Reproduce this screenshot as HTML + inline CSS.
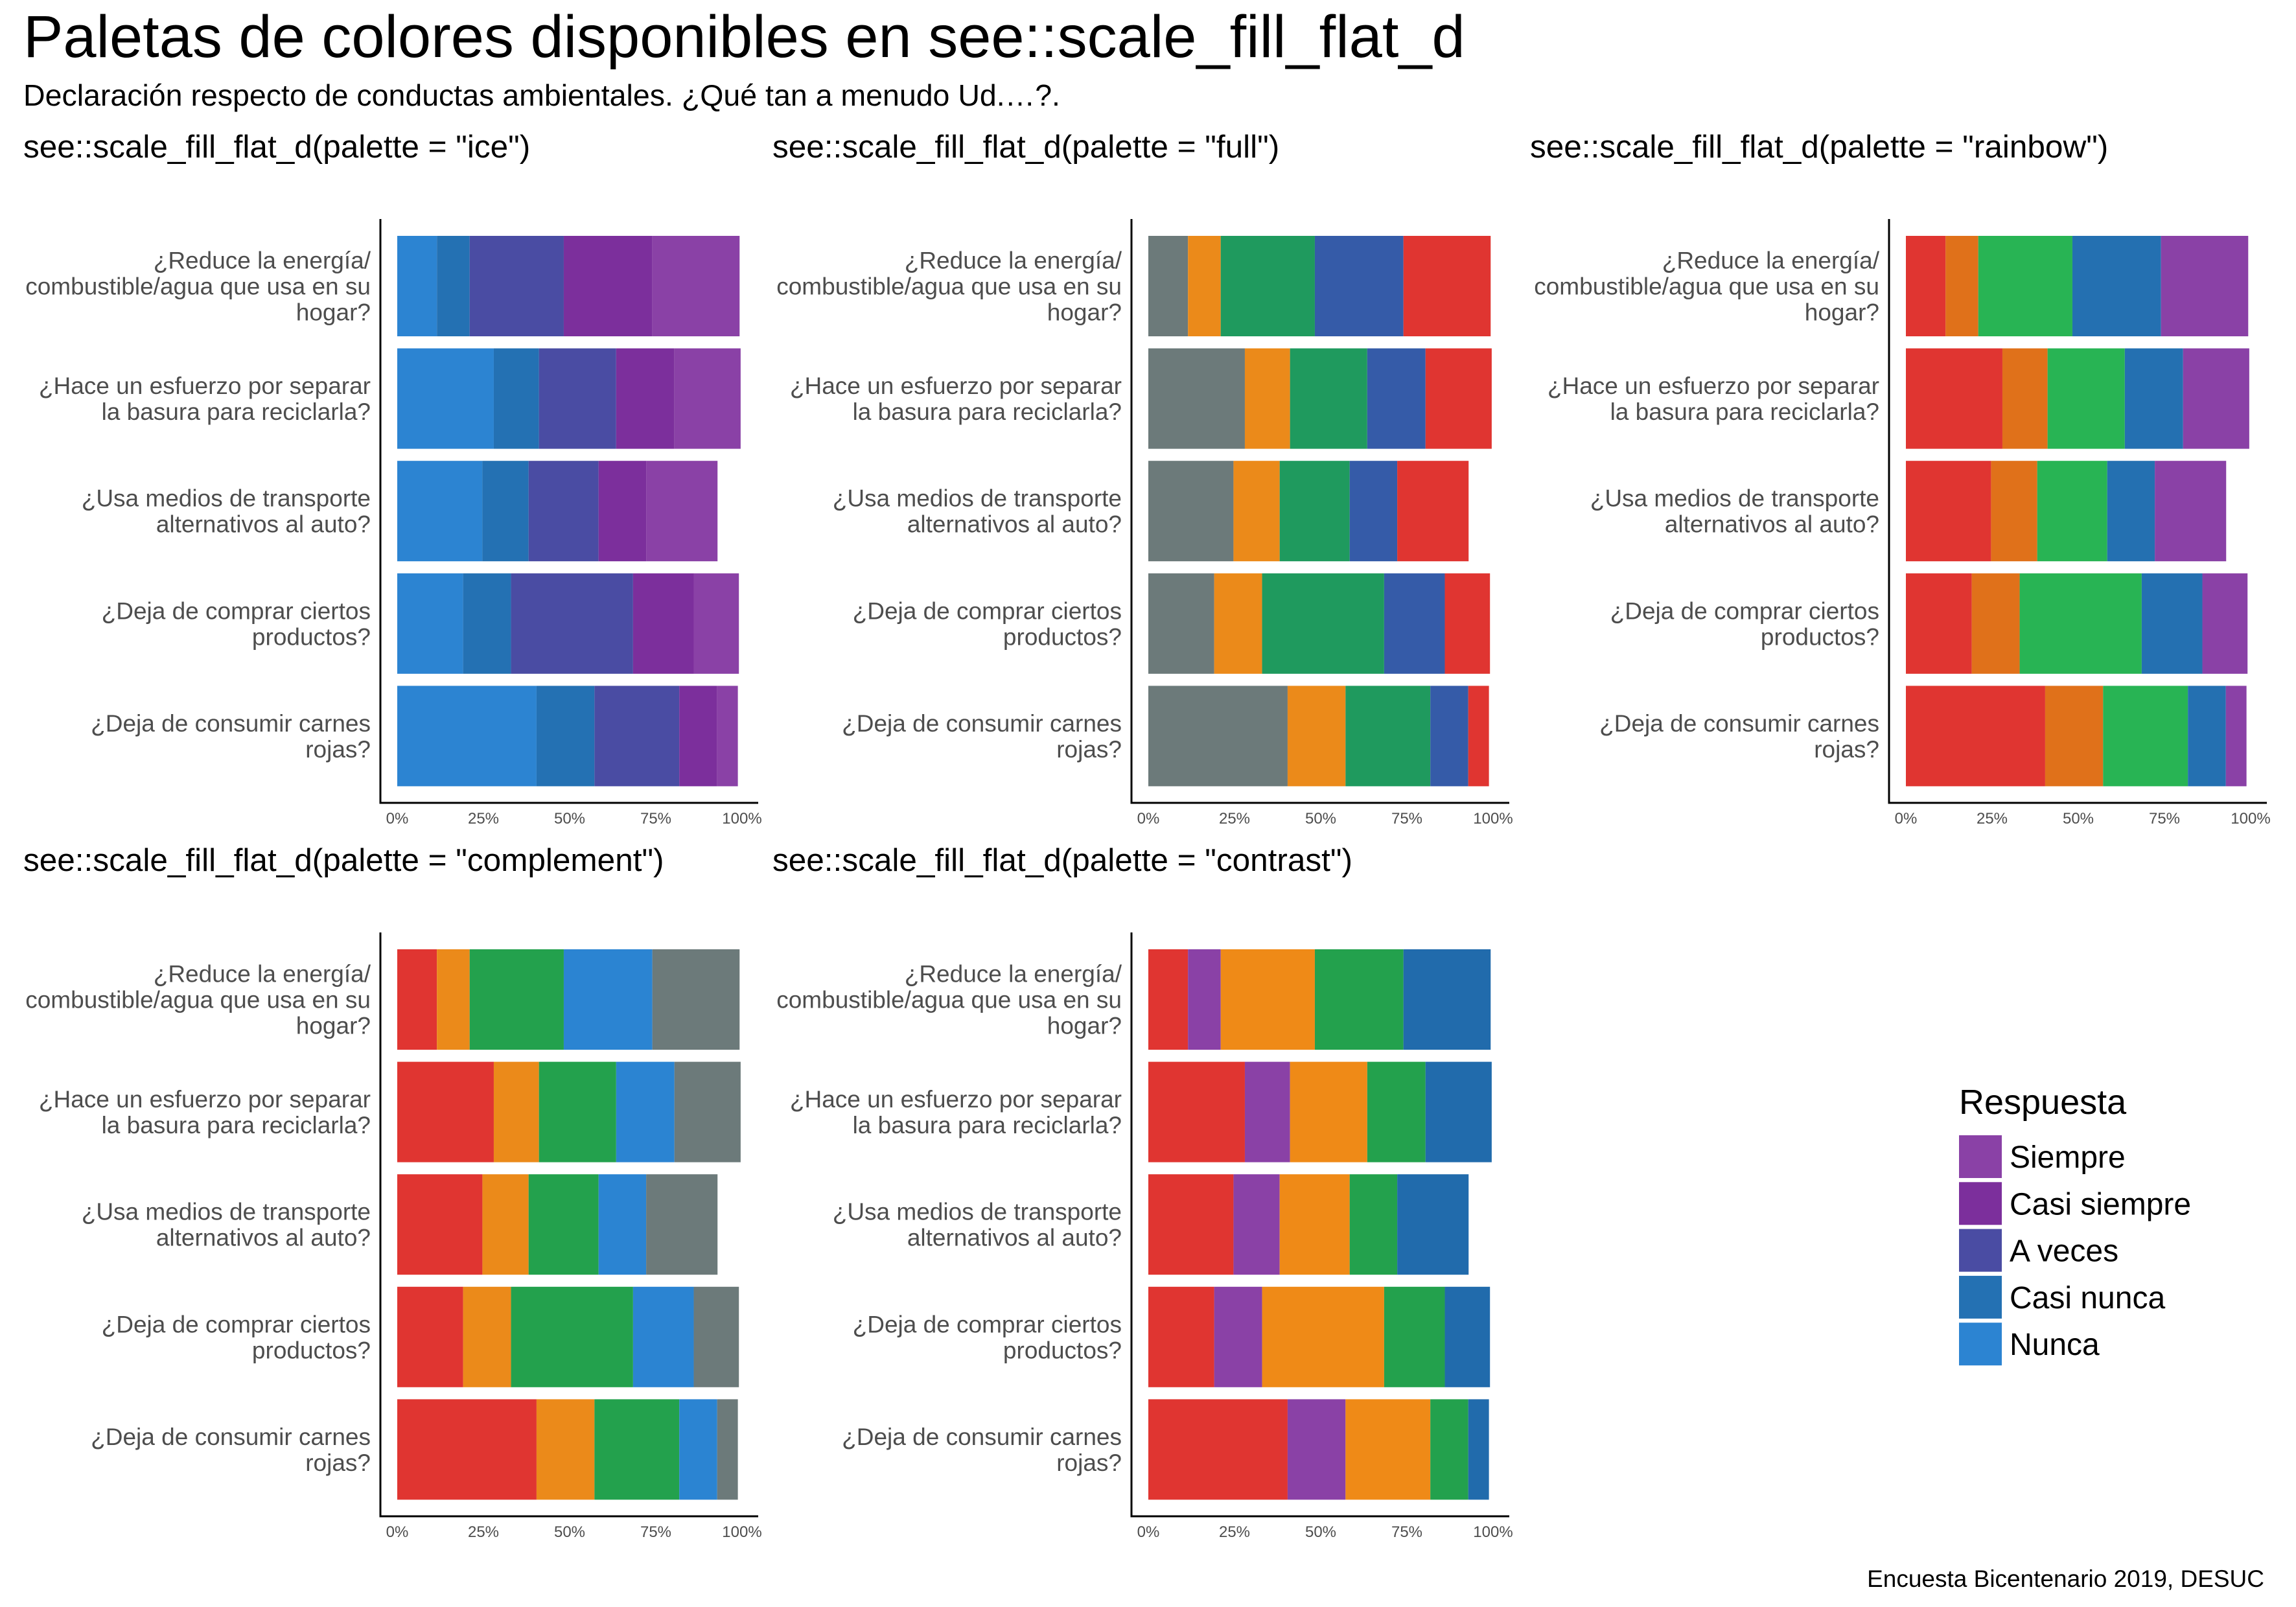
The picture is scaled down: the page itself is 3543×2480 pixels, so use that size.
<!DOCTYPE html>
<html><head><meta charset="utf-8">
<style>
html,body{margin:0;padding:0;background:#fff;}
svg{display:block;font-family:"Liberation Sans",Arial,sans-serif;}
</style></head>
<body>
<svg id="chart" width="3543" height="2480" viewBox="0 0 3543 2480" xmlns="http://www.w3.org/2000/svg">
<text x="36" y="88" font-size="92" fill="#000">Paletas de colores disponibles en see::scale_fill_flat_d</text>
<text x="36" y="163" font-size="46.5" fill="#000">Declaración respecto de conductas ambientales. ¿Qué tan a menudo Ud.…?.</text>
<text x="3494" y="2449" font-size="37" fill="#000" text-anchor="end">Encuesta Bicentenario 2019, DESUC</text>
</svg>
<script>
const categories = [
  ["¿Reduce la energía/","combustible/agua que usa en su","hogar?"],
  ["¿Hace un esfuerzo por separar","la basura para reciclarla?"],
  ["¿Usa medios de transporte","alternativos al auto?"],
  ["¿Deja de comprar ciertos","productos?"],
  ["¿Deja de consumir carnes","rojas?"]
];
const responses = ["Nunca","Casi nunca","A veces","Casi siempre","Siempre"];
const nunca       = [11.5, 28.0, 24.7, 19.1, 40.4];
const casiNunca   = [9.5, 13.1, 13.4, 13.9, 16.8];
const aVeces      = [27.3, 22.4, 20.3, 35.4, 24.6];
const casiSiempre = [25.7, 16.9, 13.8, 17.6, 11.0];
const siempre     = [25.3, 19.2, 20.7, 13.1, 6.0];
const tickValues = [0, 25, 50, 75, 100];
const tickLabels = ["0%","25%","50%","75%","100%"];
const paletteNames = ["ice","full","rainbow","complement","contrast"];
const palIce        = ["#2C84D2","#2471B3","#4A4CA3","#7C2F9C","#8A41A6"];
const palFull       = ["#6C7A7A","#EB8A1A","#1F9A5E","#355BA8","#E03531"];
const palRainbow    = ["#E03531","#E0711A","#28B454","#2470B1","#8A41A6"];
const palComplement = ["#E03531","#EB8A1A","#23A14D","#2B84D2","#6C7A7A"];
const palContrast   = ["#E03531","#8A41A6","#EF8A17","#23A14D","#216BAC"];

const series = [nunca, casiNunca, aVeces, casiSiempre, siempre];
const palettes = [palIce, palFull, palRainbow, palComplement, palContrast];
const NS = "http://www.w3.org/2000/svg";
const svg = document.getElementById("chart");
const colOff = [0, 1159, 2328];
const rowOff = [0, 1101];
function mk(tag, attrs, parent){
  const e = document.createElementNS(NS, tag);
  for (const k in attrs) e.setAttribute(k, attrs[k]);
  (parent||svg).appendChild(e);
  return e;
}
paletteNames.forEach((pn, p) => {
  const ox = colOff[p % 3], oy = rowOff[Math.floor(p / 3)];
  const g = mk("g", {});
  
  
  const x0 = ox + 613, W = 532;
  const xs = v => x0 + v / 100 * W;
  const yTop = i => oy + 364 + i * 173.6;
  const bh = 155;
  const t = mk("text", {x: ox + 36 + (p % 3 === 0 ? 0 : -3), y: oy + 243, "font-size": 49.5, fill: "#000"}, g);
  
  
  t.textContent = 'see::scale_fill_flat_d(palette = "' + pn + '")';
  categories.forEach((lines, i) => {
    let acc = 0;
    series.forEach((s, k) => {
      const r = mk("rect", {x: xs(acc), y: yTop(i), width: xs(acc + s[i]) - xs(acc), height: bh, fill: palettes[p][k]}, g);
      
      
      acc += s[i];
    });
    const cy = yTop(i) + bh / 2;
    const lh = 40;
    const lbl = mk("text", {x: ox + 572, "font-size": 37, fill: "#4d4d4d", "text-anchor": "end"}, g);
    
    
    lines.forEach((ln, j) => {
      const ts = mk("tspan", {x: ox + 572, y: cy - (lines.length - 1) * lh / 2 + j * lh + 13}, lbl);
      ts.textContent = ln;
    });
  });
  const ay = mk("line", {x1: ox + 587, y1: oy + 338, x2: ox + 587, y2: oy + 1240, stroke: "#000", "stroke-width": 3}, g);
  
  
  const ax = mk("line", {x1: ox + 585.5, y1: oy + 1239, x2: ox + 1170, y2: oy + 1239, stroke: "#000", "stroke-width": 3}, g);
  
  
  tickValues.forEach((v, j) => {
    const tl = mk("text", {x: xs(v), y: oy + 1271, "font-size": 24, fill: "#4d4d4d", "text-anchor": "middle"}, g);
    
    
    tl.textContent = tickLabels[j];
  });
});
const lg = mk("g", {});


const lt = mk("text", {x: 3023, y: 1719, "font-size": 54, fill: "#000"}, lg);


lt.textContent = "Respuesta";
const order = [4, 3, 2, 1, 0];
order.forEach((k, i) => {
  const y = 1752 + i * 72.3;
  const kr = mk("rect", {x: 3023, y: y, width: 66, height: 66, fill: palIce[k]}, lg);
  
  
  const kt = mk("text", {x: 3101, y: y + 50, "font-size": 48, fill: "#000"}, lg);
  
  
  kt.textContent = responses[k];
});
</script>
</body></html>
